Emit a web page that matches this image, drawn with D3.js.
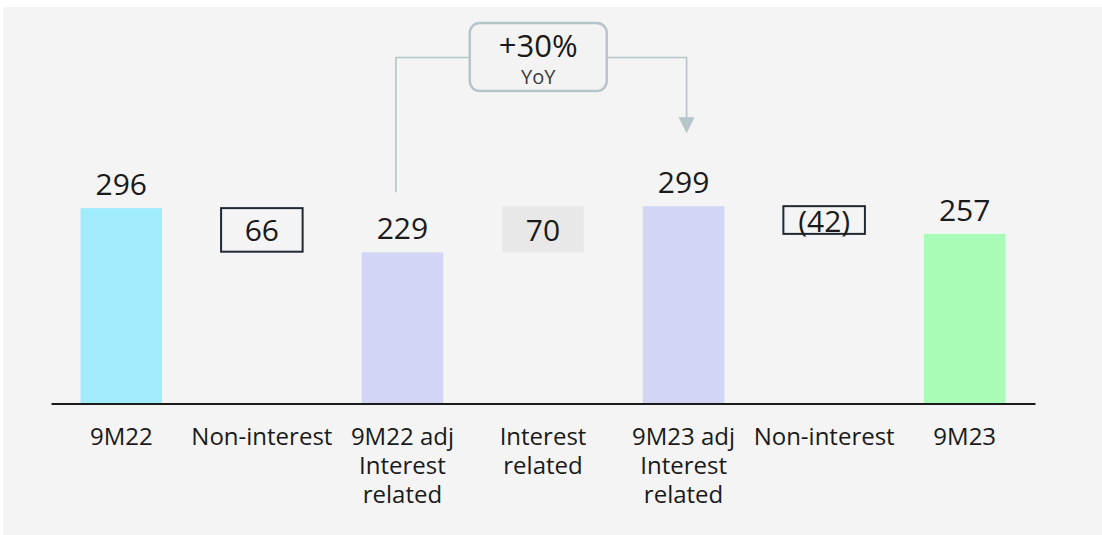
<!DOCTYPE html>
<html>
<head>
<meta charset="utf-8">
<script src="https://cdn.jsdelivr.net/npm/d3@7"></script>
<style>
  body { margin: 0; background: #fff; }
  svg { display: block; font-family: "Open Sans", sans-serif; }
</style>
</head>
<body>
<div id="wrapper"></div>
<script>
const categories = ["9M22", "Non-interest", "9M22 adj\nInterest\nrelated", "Interest\nrelated", "9M23 adj\nInterest\nrelated", "Non-interest", "9M23"];
const values = [296, -66, 229, 70, 299, -42, 257];
const valueLabels = ["296", "66", "229", "70", "299", "(42)", "257"];
const kinds = ["total", "step", "total", "step", "total", "step", "total"];
const growthLabel = "+30%";
const growthSubLabel = "YoY";
const growthFrom = 2;
const growthTo = 4;

// colours per category
const barColors = ["#a0ecfa", "#e8e8e8", "#d2d6f4", "#e8e8e8", "#d2d6f4", "#e8e8e8", "#a8fcb8"];
const outlined = [false, true, false, false, false, true, false];

(() => {
    const dimensions = {
        width: 1102,
        height: 535,
        margin: { top: 205.5, right: 67, bottom: 131.5, left: 51 },
    };
    dimensions.boundedWidth = dimensions.width - dimensions.margin.left - dimensions.margin.right;
    dimensions.boundedHeight = dimensions.height - dimensions.margin.top - dimensions.margin.bottom;

    // running totals for the waterfall
    let running = 0;
    const rows = categories.map((c, i) => {
        let start, end;
        if (kinds[i] === "total") {
            start = 0; end = values[i];
        } else {
            start = running; end = running + values[i];
        }
        running = end;
        return { category: c, start, end, label: valueLabels[i], kind: kinds[i], i };
    });

    // categories repeat ("Non-interest"), so the band scale works on indices
    const xScale = d3.scaleBand()
        .domain(d3.range(categories.length))
        .range([0, dimensions.boundedWidth])
        .paddingInner(0.42)
        .paddingOuter(0.21);
    const xCenter = i => xScale(i) + xScale.bandwidth() / 2;

    const yScale = d3.scaleLinear()
        .domain([0, 300])
        .range([dimensions.boundedHeight, 0]);

    const wrapper = d3.select("#wrapper")
        .append("svg")
        .attr("width", dimensions.width)
        .attr("height", dimensions.height);

    wrapper.append("rect")
        .attr("x", 3).attr("y", 7)
        .attr("width", dimensions.width - 3)
        .attr("height", dimensions.height - 7)
        .attr("fill", "#f4f4f4");

    const bounds = wrapper.append("g")
        .attr("transform", `translate(${dimensions.margin.left}, ${dimensions.margin.top})`);

    // bars and step boxes
    bounds.selectAll("rect.bar")
        .data(rows)
        .join("rect")
        .attr("class", "bar")
        .attr("x", d => xScale(d.i))
        .attr("width", xScale.bandwidth())
        .attr("y", d => yScale(Math.max(d.start, d.end)))
        .attr("height", d => Math.abs(yScale(d.start) - yScale(d.end)))
        .attr("fill", d => outlined[d.i] ? "none" : barColors[d.i])
        .attr("stroke", d => outlined[d.i] ? "#1f2935" : "none")
        .attr("stroke-width", 2);

    // value labels
    bounds.selectAll("text.value")
        .data(rows)
        .join("text")
        .attr("class", "value")
        .attr("x", d => xCenter(d.i))
        .attr("y", d => d.kind === "total"
            ? yScale(d.end) - 13
            : (yScale(d.start) + yScale(d.end)) / 2 + 11.5)
        .attr("text-anchor", "middle")
        .attr("fill", "#1a1a1a")
        .style("font-size", "30px")
        .text(d => d.label);

    // x axis
    const xAxis = bounds.append("g")
        .attr("transform", `translate(0, ${dimensions.boundedHeight})`)
        .call(d3.axisBottom(xScale).tickSize(0).tickSizeOuter(0).tickPadding(0)
            .tickFormat(i => categories[i]))
        .attr("font-family", null);

    xAxis.select(".domain")
        .attr("stroke", "#1a1a1a")
        .attr("stroke-width", 2);

    xAxis.selectAll(".tick text")
        .attr("dy", null)
        .attr("y", null)
        .attr("fill", "#1a1a1a")
        .style("font-size", "24px")
        .text("")
        .each(function (i) {
            d3.select(this).selectAll("tspan")
                .data(categories[i].split("\n"))
                .join("tspan")
                .attr("x", 0)
                .attr("y", (t, j) => 41 + j * 29)
                .text(t => t);
        });

    // YoY annotation
    const lineColor = "#b5c5c8";
    const leftX = xCenter(growthFrom) - 6.5;
    const rightX = xCenter(growthTo) + 3;
    const lineY = yScale(300) - 148;
    const leftBottom = yScale(values[growthFrom]) - 60;
    const arrowTip = yScale(values[growthTo]) - 73;
    const boxX = (leftX + rightX) / 2 - 3;

    const annotation = bounds.append("g");

    annotation.append("path")
        .attr("d", `M${leftX},${leftBottom}V${lineY}H${rightX}V${arrowTip - 15}`)
        .attr("fill", "none")
        .attr("stroke", lineColor)
        .attr("stroke-width", 1.6);

    annotation.append("path")
        .attr("d", `M${rightX - 8},${arrowTip - 16}L${rightX + 8},${arrowTip - 16}L${rightX},${arrowTip}Z`)
        .attr("fill", lineColor);

    annotation.append("rect")
        .attr("x", boxX - 68.5)
        .attr("y", lineY - 34.5)
        .attr("width", 137)
        .attr("height", 68)
        .attr("rx", 10)
        .attr("fill", "#f3f3f3")
        .attr("stroke", lineColor)
        .attr("stroke-width", 2.5);

    annotation.append("text")
        .attr("x", boxX)
        .attr("y", lineY - 0.5)
        .attr("text-anchor", "middle")
        .attr("fill", "#1a1a1a")
        .style("font-size", "31px")
        .text(growthLabel);

    annotation.append("text")
        .attr("x", boxX)
        .attr("y", lineY + 26)
        .attr("text-anchor", "middle")
        .attr("fill", "#3a3a3a")
        .style("font-size", "20px")
        .text(growthSubLabel);
})();
</script>
</body>
</html>
